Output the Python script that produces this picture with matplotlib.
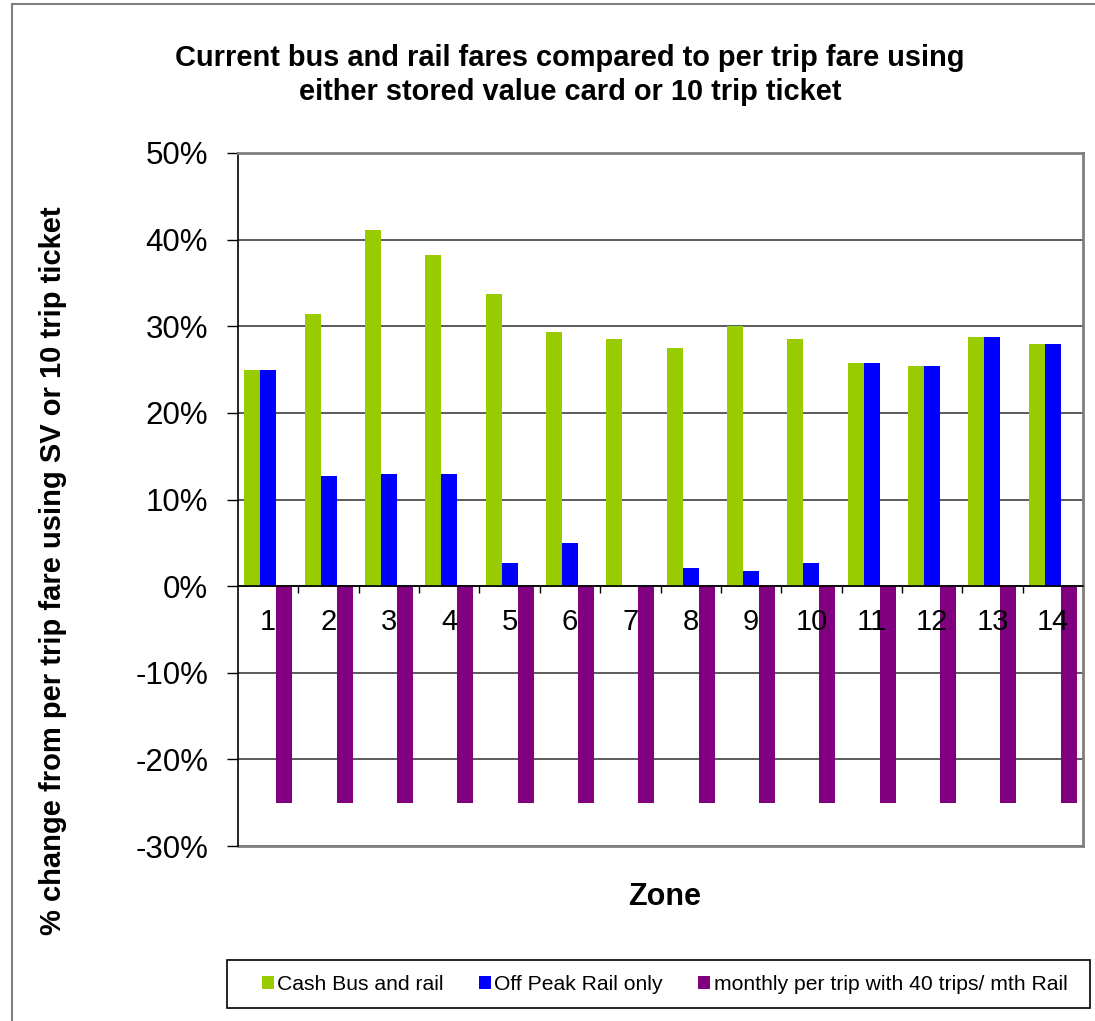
import matplotlib
matplotlib.use("Agg")
import matplotlib.pyplot as plt
from matplotlib.ticker import FuncFormatter, MultipleLocator, FixedLocator
from matplotlib.lines import Line2D
from matplotlib.patches import Rectangle
import numpy as np

plt.rcParams['font.family'] = ['Liberation Sans', 'DejaVu Sans']

zones = [str(z) for z in range(1, 15)]
cash_bus_rail = [25.0, 31.4, 41.1, 38.2, 33.7, 29.3, 28.5, 27.5, 30.0, 28.5, 25.8, 25.4, 28.8, 28.0]
off_peak_rail = [25.0, 12.7, 12.9, 12.9, 2.7, 5.0, 0.0, 2.1, 1.8, 2.7, 25.8, 25.4, 28.8, 28.0]
monthly_rail = [-25.0] * 14

series_names = ["Cash Bus and rail", "Off Peak Rail only", "monthly per trip with 40 trips/ mth Rail"]
series_colors = ["#99CC00", "#0000FF", "#800080"]

fig = plt.figure(figsize=(10.95, 10.21), dpi=100)
W, H = 1095, 1021

def fx(px):
    return px / W

def fy(py):
    return 1 - py / H

# chart area border (left and top edges)
fig.add_artist(Line2D([fx(12), fx(12)], [0, fy(4)], color="#808080", lw=1.5, transform=fig.transFigure))
fig.add_artist(Line2D([fx(12), 1.0], [fy(4), fy(4)], color="#808080", lw=1.5, transform=fig.transFigure))

ax = fig.add_axes([fx(238), fy(846), fx(1083) - fx(238), fy(153) - fy(846)])

x = np.arange(len(zones))
w = 0.265
data = [cash_bus_rail, off_peak_rail, monthly_rail]
bars = []
for k, (vals, col, name) in enumerate(zip(data, series_colors, series_names)):
    b = ax.bar(x + (k - 1) * w, vals, width=w, color=col, label=name, zorder=3)
    bars.append(b)

ax.set_xlim(-0.5, len(zones) - 0.5)
ax.set_ylim(-30, 50)
ax.yaxis.set_major_locator(MultipleLocator(10))
ax.yaxis.set_major_formatter(FuncFormatter(lambda v, p: f"{v:.0f}%"))
ax.yaxis.grid(True, color="#404040", lw=1.2, zorder=1)
ax.set_axisbelow(True)

ax.spines['bottom'].set_position(('data', 0))
ax.spines['bottom'].set_color('black')
ax.spines['bottom'].set_linewidth(1.2)
ax.spines['bottom'].set_zorder(4)
ax.spines['left'].set_color('black')
ax.spines['left'].set_linewidth(1.2)
for s in ('top', 'right'):
    ax.spines[s].set_color('#808080')
    ax.spines[s].set_linewidth(2)
# bottom frame edge of the plot area
ax.axhline(-30, color='#808080', lw=2, zorder=2, clip_on=False)

ax.set_xticks(x)
ax.set_xticklabels(zones)
ax.xaxis.set_minor_locator(FixedLocator(np.arange(0.5, len(zones) - 0.5, 1)))
ax.xaxis.set_zorder(5)
ax.tick_params(axis='x', which='major', length=0, pad=16, labelsize=21)
ax.tick_params(axis='x', which='minor', length=5, width=1, direction='out', color='black')
ax.tick_params(axis='y', which='major', length=8, width=1, direction='out', pad=13.5, labelsize=22.5)

fig.text(fx(570), fy(75), "Current bus and rail fares compared to per trip fare using\neither stored value card or 10 trip ticket",
         ha='center', va='center', fontsize=20.9, fontweight='bold', linespacing=1.27)
fig.text(fx(53), fy(571), "% change from per trip fare using SV or 10 trip ticket",
         ha='center', va='center', rotation=90, fontsize=21, fontweight='bold')
fig.text(fx(665), fy(897), "Zone", ha='center', va='center', fontsize=22, fontweight='bold')

# legend box
fig.add_artist(Rectangle((fx(227), fy(1008)), fx(1090) - fx(227), fy(960) - fy(1008),
                         transform=fig.transFigure, facecolor='white', edgecolor='black', lw=1.2))
leg = fig.legend(handles=bars, labels=series_names, loc='center left', ncol=3,
                 bbox_to_anchor=(fx(262), fy(984)), fontsize=15.2, frameon=False,
                 handlelength=0.57, handleheight=0.57, handletextpad=0.15, borderaxespad=0,
                 columnspacing=1.68, borderpad=0)

fig.savefig("out.png", dpi=100)
